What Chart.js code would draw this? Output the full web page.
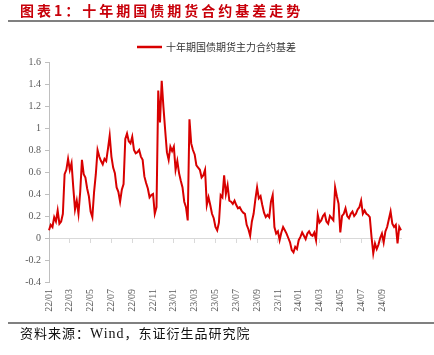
<!DOCTYPE html>
<html>
<head>
<meta charset="utf-8">
<script src="https://cdn.jsdelivr.net/npm/chart.js@4"></script>
<style>
  html, body { margin:0; padding:0; background:#fff; }
  #wrap { position:relative; width:434px; height:355px; overflow:hidden; }
  #title { position:absolute; left:20px; top:1px; font-family:"Noto Sans CJK SC"; font-weight:700; font-size:14px; letter-spacing:3px; color:#c8000a; white-space:nowrap; line-height:18px; }
  #tline { position:absolute; left:8px; right:0; top:20px; height:2px; background:#808080; }
  #bline { position:absolute; left:8px; right:0; top:322px; height:2px; background:#808080; }
  #foot { position:absolute; left:20px; top:324px; font-family:"Noto Sans CJK SC"; font-size:13px; letter-spacing:1px; color:#111; white-space:nowrap; line-height:17px; }
  #foot .lat { font-family:"Liberation Serif"; font-size:14px; }
  canvas { position:absolute; left:0; top:0; }
</style>
</head>
<body>
<div id="wrap">
  <canvas id="c" width="434" height="355"></canvas>
  <div id="title">图表1：十年期国债期货合约基差走势</div>
  <div id="tline"></div>
  <div id="bline"></div>
  <div id="foot">资料来源：<span class="lat">Wind</span>，东证衍生品研究院</div>
</div>
<script>
const seriesName = '十年期国债期货主力合约基差';
const tickLabels = ['22/01','22/03','22/05','22/07','22/09','22/11','23/01','23/03','23/05','23/07','23/09','23/11','24/01','24/03','24/05','24/07','24/09'];
const labelStep = 12;
const basis = [
  0.07,0.12,0.10,0.19,0.15,0.25,0.13,0.15,0.22,0.58,
  0.62,0.72,0.62,0.68,0.46,0.26,0.34,0.22,0.42,0.71,
  0.58,0.55,0.45,0.38,0.24,0.19,0.42,0.58,0.80,0.74,
  0.70,0.67,0.72,0.70,0.81,0.93,0.74,0.64,0.59,0.46,
  0.42,0.33,0.44,0.49,0.90,0.95,0.88,0.86,0.92,0.80,
  0.77,0.78,0.80,0.74,0.71,0.56,0.50,0.45,0.37,0.39,
  0.40,0.22,0.28,1.34,1.05,1.43,1.19,0.98,0.78,0.71,
  0.83,0.79,0.83,0.62,0.70,0.59,0.52,0.46,0.33,0.28,
  0.16,1.08,0.86,0.80,0.76,0.66,0.64,0.62,0.55,0.57,
  0.62,0.30,0.37,0.30,0.22,0.18,0.10,0.07,0.14,0.39,
  0.37,0.57,0.40,0.48,0.34,0.33,0.31,0.34,0.30,0.27,
  0.28,0.25,0.23,0.22,0.12,0.08,0.02,0.15,0.22,0.35,
  0.46,0.36,0.38,0.30,0.23,0.19,0.21,0.19,0.33,0.39,
  0.10,0.04,0.06,-0.02,0.05,0.10,0.07,0.04,0.00,-0.04,
  -0.11,-0.13,-0.08,-0.10,-0.02,0.01,0.05,0.02,-0.01,0.04,
  0.06,0.03,0.02,0.05,-0.02,0.21,0.14,0.16,0.20,0.22,
  0.15,0.13,0.20,0.18,0.16,0.46,0.38,0.31,0.05,0.20,
  0.22,0.27,0.20,0.18,0.22,0.24,0.20,0.22,0.26,0.28,
  0.34,0.22,0.25,0.22,0.21,0.19,0.01,-0.14,-0.05,-0.10,
  -0.06,0.00,0.04,-0.04,0.06,0.10,0.17,0.24,0.13,0.10,
  0.12,-0.05,0.10,0.07
];
const yMin = -0.4, yMax = 1.6, yStep = 0.2;

const labels = basis.map((v, i) => (i % labelStep === 0 && tickLabels[i / labelStep]) ? tickLabels[i / labelStep] : '');
const keepTicks = s => { s.ticks = s.ticks.filter(t => t.value % labelStep === 0); };
const RED = '#d80000';
const axisFont = { family: 'Liberation Serif', size: 10 };

new Chart(document.getElementById('c'), {
  type: 'line',
  data: {
    labels: labels,
    datasets: [{
      label: seriesName,
      data: basis,
      borderColor: RED,
      backgroundColor: RED,
      borderWidth: 2,
      pointRadius: 0,
      tension: 0,
      xAxisID: 'x',
      yAxisID: 'y'
    }]
  },
  options: {
    responsive: false,
    animation: false,
    layout: { padding: { left: 0, right: 0, top: 33, bottom: 26 } },
    plugins: {
      legend: {
        display: true,
        position: 'top',
        labels: {
          boxWidth: 23, boxHeight: 0.5, padding: 9,
          font: { family: 'Noto Sans CJK SC', size: 10 },
          color: '#333'
        }
      },
      tooltip: { enabled: false }
    },
    scales: {
      x: {
        type: 'category',
        position: 'bottom',
        border: { display: false },
        grid: { display: false, drawTicks: false },
        ticks: { autoSkip: false, maxRotation: 90, minRotation: 90, padding: 7, font: axisFont, color: '#595959' },
        afterBuildTicks: keepTicks,
        afterFit: s => { s.height = 47; }
      },
      x2: {
        type: 'category',
        axis: 'x',
        position: { y: 0 },
        border: { display: true, color: '#d9d9d9', width: 1 },
        grid: { drawOnChartArea: false, drawTicks: true, tickLength: 4, tickColor: '#d9d9d9' },
        ticks: { display: false, autoSkip: false },
        afterBuildTicks: keepTicks
      },
      y: {
        position: 'left',
        min: yMin, max: yMax,
        border: { color: '#bfbfbf', width: 1 },
        grid: { drawOnChartArea: false, tickLength: 4, tickColor: '#bfbfbf' },
        ticks: { stepSize: yStep, padding: 4, font: axisFont, color: '#595959',
          callback: v => String(Math.round(v * 10) / 10) },
        afterFit: s => { s.width = 49; }
      },
      yR: {
        position: 'right',
        min: yMin, max: yMax,
        display: true,
        border: { display: false },
        grid: { display: false, drawTicks: false },
        ticks: { display: false },
        afterFit: s => { s.width = 33; }
      }
    }
  }
});
</script>
</body>
</html>
